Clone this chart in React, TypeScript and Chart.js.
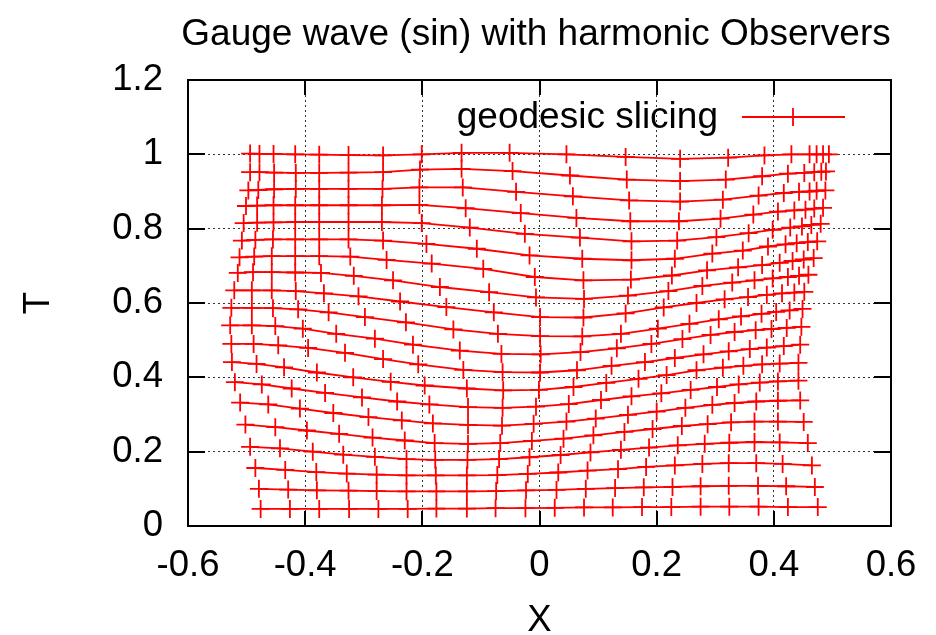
import React, { useEffect, useRef } from "react";
import { Chart, registerables } from "chart.js";

Chart.register(...registerables);

const TITLE = "Gauge wave (sin) with harmonic Observers";
const X_TITLE = "X";
const T_TITLE = "T";
const LEGEND_TEXT = "geodesic slicing";

const X_TICKS = [-0.6, -0.4, -0.2, 0, 0.2, 0.4, 0.6];
const T_TICKS = [0, 0.2, 0.4, 0.6, 0.8, 1, 1.2];

// Slices of geodesic slicing; each point is one of the 20 harmonic observers.
const x01 = [-0.476, -0.426, -0.376, -0.325, -0.275, -0.225, -0.176, -0.124, -0.075, -0.024, 0.026, 0.076, 0.125, 0.175, 0.225, 0.275, 0.324, 0.374, 0.424, 0.475];
const t01 = [0.046, 0.046, 0.046, 0.046, 0.046, 0.046, 0.047, 0.047, 0.048, 0.048, 0.049, 0.05, 0.05, 0.051, 0.051, 0.052, 0.052, 0.052, 0.051, 0.051];
const x02 = [-0.479, -0.429, -0.38, -0.326, -0.278, -0.227, -0.176, -0.124, -0.074, -0.023, 0.029, 0.079, 0.129, 0.178, 0.227, 0.275, 0.323, 0.373, 0.421, 0.47];
const t02 = [0.1, 0.098, 0.096, 0.095, 0.094, 0.093, 0.093, 0.093, 0.094, 0.096, 0.097, 0.1, 0.102, 0.104, 0.105, 0.107, 0.108, 0.108, 0.107, 0.105];
const x03 = [-0.485, -0.434, -0.381, -0.329, -0.278, -0.227, -0.177, -0.124, -0.072, -0.02, 0.032, 0.082, 0.134, 0.182, 0.231, 0.278, 0.323, 0.37, 0.415, 0.465];
const t03 = [0.156, 0.151, 0.145, 0.141, 0.138, 0.136, 0.136, 0.136, 0.137, 0.14, 0.144, 0.149, 0.153, 0.159, 0.163, 0.167, 0.169, 0.169, 0.167, 0.163];
const x04 = [-0.494, -0.443, -0.387, -0.335, -0.281, -0.227, -0.178, -0.123, -0.069, -0.017, 0.036, 0.087, 0.139, 0.187, 0.236, 0.282, 0.324, 0.367, 0.41, 0.458];
const t04 = [0.213, 0.209, 0.2, 0.192, 0.186, 0.18, 0.178, 0.178, 0.18, 0.185, 0.191, 0.198, 0.205, 0.211, 0.217, 0.221, 0.224, 0.226, 0.225, 0.223];
const x05 = [-0.502, -0.451, -0.397, -0.342, -0.285, -0.23, -0.179, -0.122, -0.067, -0.013, 0.041, 0.092, 0.145, 0.193, 0.243, 0.287, 0.327, 0.367, 0.407, 0.451];
const t05 = [0.273, 0.266, 0.257, 0.248, 0.238, 0.23, 0.223, 0.221, 0.223, 0.229, 0.235, 0.244, 0.253, 0.261, 0.269, 0.274, 0.279, 0.281, 0.281, 0.28];
const x06 = [-0.511, -0.463, -0.409, -0.352, -0.292, -0.235, -0.182, -0.122, -0.064, -0.01, 0.046, 0.096, 0.151, 0.2, 0.249, 0.295, 0.333, 0.37, 0.407, 0.445];
const t06 = [0.332, 0.327, 0.316, 0.304, 0.293, 0.284, 0.276, 0.272, 0.27, 0.275, 0.281, 0.289, 0.299, 0.308, 0.318, 0.326, 0.331, 0.335, 0.337, 0.338];
const x07 = [-0.52, -0.474, -0.423, -0.366, -0.303, -0.243, -0.188, -0.122, -0.063, -0.006, 0.05, 0.105, 0.157, 0.208, 0.258, 0.303, 0.34, 0.376, 0.407, 0.442];
const t07 = [0.387, 0.381, 0.37, 0.358, 0.346, 0.335, 0.327, 0.32, 0.318, 0.321, 0.328, 0.339, 0.349, 0.357, 0.366, 0.374, 0.381, 0.386, 0.389, 0.391];
const x08 = [-0.525, -0.483, -0.436, -0.38, -0.318, -0.254, -0.196, -0.124, -0.062, -0.001, 0.058, 0.114, 0.169, 0.217, 0.268, 0.313, 0.348, 0.38, 0.41, 0.442];
const t08 = [0.441, 0.436, 0.427, 0.413, 0.4, 0.388, 0.378, 0.37, 0.365, 0.366, 0.374, 0.385, 0.396, 0.406, 0.419, 0.426, 0.431, 0.435, 0.437, 0.439];
const x09 = [-0.526, -0.488, -0.446, -0.395, -0.332, -0.267, -0.207, -0.13, -0.063, 0.001, 0.064, 0.123, 0.18, 0.231, 0.28, 0.323, 0.359, 0.388, 0.417, 0.445];
const t09 = [0.49, 0.49, 0.486, 0.479, 0.466, 0.449, 0.435, 0.42, 0.414, 0.413, 0.419, 0.431, 0.441, 0.452, 0.462, 0.47, 0.476, 0.48, 0.484, 0.488];
const x10 = [-0.528, -0.491, -0.451, -0.404, -0.347, -0.281, -0.216, -0.136, -0.065, 0.002, 0.07, 0.132, 0.191, 0.244, 0.292, 0.333, 0.369, 0.396, 0.422, 0.447];
const t10 = [0.54, 0.54, 0.538, 0.531, 0.517, 0.504, 0.488, 0.472, 0.463, 0.462, 0.468, 0.478, 0.49, 0.503, 0.514, 0.522, 0.527, 0.53, 0.533, 0.536];
const x11 = [-0.526, -0.491, -0.455, -0.412, -0.36, -0.298, -0.228, -0.147, -0.071, 0.001, 0.073, 0.139, 0.202, 0.256, 0.306, 0.344, 0.379, 0.404, 0.427, 0.449];
const t11 = [0.587, 0.587, 0.586, 0.583, 0.575, 0.562, 0.548, 0.529, 0.517, 0.511, 0.51, 0.517, 0.531, 0.544, 0.556, 0.564, 0.571, 0.576, 0.58, 0.584];
const x12 = [-0.521, -0.491, -0.457, -0.416, -0.368, -0.309, -0.238, -0.159, -0.078, 0.001, 0.075, 0.147, 0.212, 0.268, 0.316, 0.356, 0.388, 0.414, 0.435, 0.452];
const t12 = [0.634, 0.634, 0.634, 0.632, 0.626, 0.618, 0.604, 0.589, 0.575, 0.562, 0.561, 0.572, 0.588, 0.6, 0.61, 0.616, 0.622, 0.626, 0.628, 0.63];
const x13 = [-0.515, -0.489, -0.457, -0.417, -0.373, -0.317, -0.25, -0.17, -0.086, -0.006, 0.076, 0.151, 0.22, 0.278, 0.329, 0.367, 0.398, 0.424, 0.443, 0.459];
const t13 = [0.681, 0.683, 0.683, 0.682, 0.681, 0.673, 0.661, 0.643, 0.629, 0.615, 0.611, 0.62, 0.632, 0.646, 0.655, 0.661, 0.666, 0.67, 0.673, 0.676];
const x14 = [-0.512, -0.487, -0.457, -0.417, -0.376, -0.323, -0.261, -0.184, -0.096, -0.008, 0.075, 0.156, 0.226, 0.286, 0.339, 0.38, 0.41, 0.432, 0.451, 0.468];
const t14 = [0.723, 0.725, 0.726, 0.726, 0.726, 0.725, 0.716, 0.706, 0.692, 0.67, 0.661, 0.663, 0.674, 0.688, 0.696, 0.702, 0.708, 0.713, 0.717, 0.721];
const x15 = [-0.508, -0.485, -0.455, -0.417, -0.376, -0.326, -0.267, -0.193, -0.107, -0.017, 0.073, 0.157, 0.231, 0.295, 0.347, 0.39, 0.42, 0.439, 0.458, 0.474];
const t15 = [0.768, 0.77, 0.771, 0.771, 0.771, 0.771, 0.768, 0.759, 0.746, 0.728, 0.719, 0.715, 0.719, 0.733, 0.741, 0.752, 0.758, 0.761, 0.764, 0.766];
const x16 = [-0.505, -0.482, -0.454, -0.417, -0.376, -0.326, -0.269, -0.201, -0.119, -0.025, 0.069, 0.157, 0.235, 0.302, 0.357, 0.398, 0.428, 0.448, 0.464, 0.48];
const t16 = [0.815, 0.816, 0.817, 0.818, 0.818, 0.818, 0.818, 0.815, 0.803, 0.786, 0.776, 0.766, 0.768, 0.777, 0.788, 0.797, 0.803, 0.806, 0.81, 0.813];
const x17 = [-0.501, -0.482, -0.454, -0.417, -0.376, -0.326, -0.269, -0.205, -0.126, -0.032, 0.063, 0.155, 0.238, 0.309, 0.365, 0.407, 0.435, 0.454, 0.469, 0.484];
const t17 = [0.861, 0.862, 0.863, 0.863, 0.863, 0.863, 0.863, 0.864, 0.855, 0.842, 0.829, 0.82, 0.82, 0.827, 0.838, 0.846, 0.849, 0.851, 0.854, 0.856];
const x18 = [-0.497, -0.48, -0.453, -0.416, -0.376, -0.326, -0.268, -0.205, -0.131, -0.04, 0.057, 0.153, 0.24, 0.313, 0.374, 0.417, 0.443, 0.461, 0.473, 0.488];
const t18 = [0.903, 0.904, 0.906, 0.907, 0.907, 0.907, 0.907, 0.911, 0.911, 0.899, 0.887, 0.876, 0.873, 0.878, 0.889, 0.896, 0.899, 0.9, 0.902, 0.903];
const x19 = [-0.494, -0.478, -0.453, -0.416, -0.376, -0.326, -0.267, -0.204, -0.133, -0.046, 0.052, 0.149, 0.24, 0.318, 0.38, 0.424, 0.452, 0.469, 0.481, 0.489];
const t19 = [0.952, 0.952, 0.951, 0.95, 0.95, 0.951, 0.952, 0.959, 0.961, 0.955, 0.943, 0.932, 0.928, 0.932, 0.941, 0.948, 0.95, 0.952, 0.953, 0.954];
const x20 = [-0.494, -0.478, -0.454, -0.417, -0.376, -0.326, -0.267, -0.201, -0.133, -0.051, 0.046, 0.147, 0.24, 0.322, 0.384, 0.43, 0.461, 0.473, 0.484, 0.494];
const t20 = [1.002, 1.001, 1.001, 1.0, 0.999, 0.998, 0.997, 1.0, 1.004, 1.004, 1.0, 0.993, 0.988, 0.991, 0.997, 1.0, 1.0, 1.0, 1.0, 1.0];

const SLICES: number[][][] = [
  [x01, t01], [x02, t02], [x03, t03], [x04, t04], [x05, t05],
  [x06, t06], [x07, t07], [x08, t08], [x09, t09], [x10, t10],
  [x11, t11], [x12, t12], [x13, t13], [x14, t14], [x15, t15],
  [x16, t16], [x17, t17], [x18, t18], [x19, t19], [x20, t20],
];

const FONT = "'Liberation Sans', Arial, Helvetica, sans-serif";
const FONT_SIZE = 36.5;
const TITLE_SIZE = 37;
const RED = "#ff0000";
const GRID = "rgba(0,0,0,0.8)";

const fmtTick = (v: number | string) => {
  const n = Math.round(Number(v) * 10) / 10;
  return String(n);
};

const decorPlugin = {
  id: "gnuplotDecor",
  afterDraw(chart: any) {
    const { ctx, chartArea: a } = chart;
    const xs = chart.scales.x;
    const ys = chart.scales.y;
    ctx.save();
    // inward tics on all four sides
    ctx.strokeStyle = "#000";
    ctx.lineWidth = 2;
    ctx.beginPath();
    for (const v of X_TICKS) {
      const px = Math.round(xs.getPixelForValue(v));
      ctx.moveTo(px, a.bottom);
      ctx.lineTo(px, a.bottom - 15);
      ctx.moveTo(px, a.top);
      ctx.lineTo(px, a.top + 15);
    }
    for (const v of T_TICKS) {
      const py = Math.round(ys.getPixelForValue(v));
      ctx.moveTo(a.left, py);
      ctx.lineTo(a.left + 17, py);
      ctx.moveTo(a.right, py);
      ctx.lineTo(a.right - 17, py);
    }
    ctx.stroke();
    ctx.strokeRect(a.left, a.top, a.right - a.left, a.bottom - a.top);

    // texts
    ctx.fillStyle = "#000";
    ctx.font = `${TITLE_SIZE}px ${FONT}`;
    ctx.textAlign = "center";
    ctx.textBaseline = "alphabetic";
    ctx.fillText(TITLE, 536, 45);
    ctx.font = `${FONT_SIZE}px ${FONT}`;
    ctx.fillText(X_TITLE, (a.left + a.right) / 2, 631);
    ctx.save();
    ctx.translate(39, (a.top + a.bottom) / 2);
    ctx.rotate(-Math.PI / 2);
    ctx.textBaseline = "middle";
    ctx.fillText(T_TITLE, 0, 0);
    ctx.restore();

    // key
    ctx.textAlign = "right";
    ctx.font = `${TITLE_SIZE}px ${FONT}`;
    ctx.fillText(LEGEND_TEXT, 718, 128);
    ctx.strokeStyle = RED;
    ctx.lineWidth = 1.8;
    ctx.beginPath();
    ctx.moveTo(742, 117);
    ctx.lineTo(845, 117);
    ctx.moveTo(793, 108);
    ctx.lineTo(793, 126);
    ctx.stroke();
    ctx.restore();
  },
};

export default function App() {
  const canvasRef = useRef<HTMLCanvasElement | null>(null);

  useEffect(() => {
    const canvas = canvasRef.current;
    if (!canvas) return;
    const datasets = SLICES.map(([xs, ts], i) => ({
      label: `slice ${i + 1}`,
      data: xs.map((x, j) => ({ x, y: ts[j] })),
      showLine: true,
      borderColor: RED,
      backgroundColor: RED,
      borderWidth: 1.8,
      pointStyle: "cross" as const,
      pointRadius: 9,
      pointBorderWidth: 1.8,
      pointBorderColor: RED,
      pointHoverRadius: 9,
      tension: 0,
    }));

    const tickFont = { family: FONT, size: FONT_SIZE };

    const chart = new Chart(canvas, {
      type: "scatter",
      data: { datasets },
      options: {
        responsive: false,
        maintainAspectRatio: false,
        animation: false,
        devicePixelRatio: 1,
        layout: { padding: { left: 0, right: 45, top: 80, bottom: 0 } },
        plugins: {
          legend: { display: false },
          tooltip: { enabled: false },
          title: { display: false },
        },
        scales: {
          x: {
            type: "linear",
            min: -0.6,
            max: 0.6,
            ticks: {
              stepSize: 0.2,
              autoSkip: false,
              maxRotation: 0,
              font: tickFont,
              color: "#000",
              padding: 18,
              callback: fmtTick,
            },
            grid: { color: GRID, lineWidth: 1, drawTicks: false },
            border: { display: false, dash: [2, 3] },
            afterFit: (scale: any) => {
              scale.height = 109;
            },
          },
          y: {
            type: "linear",
            min: 0,
            max: 1.2,
            ticks: {
              stepSize: 0.2,
              autoSkip: false,
              font: tickFont,
              color: "#000",
              padding: 25,
              callback: fmtTick,
            },
            grid: { color: GRID, lineWidth: 1, drawTicks: false },
            border: { display: false, dash: [2, 3] },
            afterFit: (scale: any) => {
              scale.width = 188;
            },
          },
        },
      },
      plugins: [decorPlugin],
    });

    return () => {
      chart.destroy();
    };
  }, []);

  return (
    <div style={{ position: "absolute", left: 0, top: 0, width: 936, height: 635, background: "#fff" }}>
      <canvas ref={canvasRef} width={936} height={635} style={{ display: "block" }} />
    </div>
  );
}
